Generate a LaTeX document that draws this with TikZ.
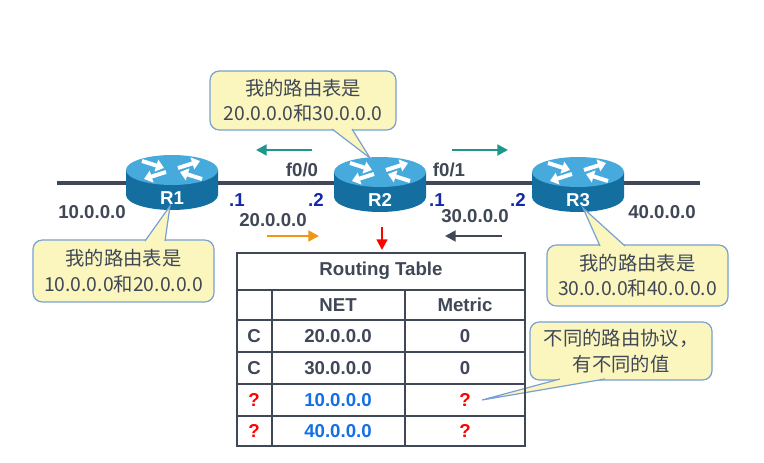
\documentclass[tikz,border=0pt]{standalone}
\usepackage{fontspec}
\setmainfont{Liberation Sans}
\newfontfamily\cjk{Noto Sans CJK SC}
\usetikzlibrary{arrows.meta,calc}
\definecolor{txt}{RGB}{64,72,88}
\definecolor{callfill}{RGB}{250,246,190}
\definecolor{callline}{RGB}{120,160,210}
\definecolor{tealc}{RGB}{30,150,140}
\definecolor{orangec}{RGB}{240,150,20}
\definecolor{bluec}{RGB}{20,110,230}
\definecolor{dblue}{RGB}{20,40,170}
\definecolor{rtop}{RGB}{70,170,220}
\definecolor{rbody}{RGB}{20,110,160}
\tikzset{
  lbl/.style={font=\fontsize{14}{16}\selectfont\bfseries, text=txt},
  ip/.style={font=\fontsize{14}{16}\selectfont\bfseries, text=dblue},
  ctext/.style={font=\cjk\fontsize{14.5}{19}\selectfont, text=txt, align=center},
  cell/.style={font=\fontsize{14}{16}\selectfont\bfseries, text=txt},
  arr/.style={-{Triangle[length=8pt,width=8pt]}, line width=2.2pt},
  cbox/.style={fill=callfill, draw=callline, line width=0.9pt, rounded corners=7pt},
}
\newcommand{\myrouter}[3]{% name, x, y
  \fill[rbody] (#2-46,#3-10) -- (#2-46,#3+15) arc[start angle=180,end angle=0,x radius=46,y radius=15] -- (#2+46,#3-10) -- cycle;
  \fill[rtop] (#2,#3-10) ellipse[x radius=46,y radius=15];
  \begin{scope}[white, line width=3pt, -{Triangle[length=6pt,width=9pt]}]
    \draw (#2-30,#3-19) -- (#2-8,#3-12);
    \draw (#2+30,#3-1) -- (#2+8,#3-8);
    \draw (#2+6,#3-12) -- (#2+28,#3-19);
    \draw (#2-6,#3-8) -- (#2-28,#3-1);
  \end{scope}
  \node[font=\fontsize{14}{16}\selectfont\bfseries, text=white] (#1) at (#2,#3+18) {#1};
}
\begin{document}
\begin{tikzpicture}[x=0.75pt,y=-0.75pt]
\useasboundingbox (0,0) rectangle (764,463);
\fill[white] (0,0) rectangle (764,463);
% line
\coordinate (L0) at (57,183);
\coordinate (L1) at (700,183);
\draw[txt, line width=2.4pt] (L0) -- (L1);
\myrouter{R1}{172}{180}
\myrouter{R2}{380}{182}
\myrouter{R3}{578}{182}
% labels
\node[lbl] (n10) at (92,212) {10.0.0.0};
\node[lbl] (n40) at (662,212) {40.0.0.0};
\node[ip] (i1) at (237,200) {.1};
\node[ip] (i2) at (316,200) {.2};
\node[ip] (i3) at (437,200) {.1};
\node[ip] (i4) at (518,200) {.2};
\node[lbl] (f00) at (302,170) {f0/0};
\node[lbl] (f01) at (449,170) {f0/1};
\node[lbl] (n20) at (273,220) {20.0.0.0};
\node[lbl] (n30) at (475,216) {30.0.0.0};
% arrows
\coordinate (a1) at (312,150); \coordinate (a2) at (256,150);
\coordinate (b1) at (452,150); \coordinate (b2) at (508,150);
\coordinate (c1) at (267,236); \coordinate (c2) at (319,236);
\coordinate (d1) at (502,236); \coordinate (d2) at (445,236);
\coordinate (e1) at (382,227); \coordinate (e2) at (382,250);
\draw[arr, tealc] (a1) -- (a2);
\draw[arr, tealc] (b1) -- (b2);
\draw[arr, orangec] (c1) -- (c2);
\draw[arr, txt] (d1) -- (d2);
\draw[arr, red, line width=1.8pt] (e1) -- (e2);
% callouts
\newcommand{\callout}[9]{% name, x1,y1,x2,y2, baseA, baseB, tip, text
  \draw[cbox] (#2,#3) rectangle (#4,#5);
  \fill[callfill] #6 -- #8 -- #7 -- cycle;
  \draw[callline, line width=0.9pt] #6 -- #8 -- #7;
  \node[ctext] (#1) at ({(#2+#4)/2},{(#3+#5)/2}) {#9};
}
\callout{c2}{210}{71}{396}{130}{(332,129)}{(352,129)}{(370,158)}{我的路由表是\\20.0.0.0和30.0.0.0}
\callout{c1}{33}{240}{214}{302}{(145,241)}{(165,241)}{(170,206)}{我的路由表是\\10.0.0.0和20.0.0.0}
\callout{c3}{547}{245}{728}{306}{(600,246)}{(625,246)}{(583,208)}{我的路由表是\\30.0.0.0和40.0.0.0}
\callout{c4}{530}{322}{712}{380}{(560,379)}{(605,379)}{(482,400)}{不同的路由协议，\\有不同的值}
% table
\draw[txt, line width=1.3pt] (237,253) rectangle (525,446);
\foreach \y in {290,320,352,384,416} \draw[txt, line width=1.3pt] (237,\y) -- (525,\y);
\draw[txt, line width=1.3pt] (272,290) -- (272,446);
\draw[txt, line width=1.3pt] (405,290) -- (405,446);
\node[cell] (tt) at (381,271) {Routing Table};
\node[cell] (hn) at (338,305) {NET};
\node[cell] (hm) at (465,305) {Metric};
\node[cell] (r1a) at (254,336) {C};
\node[cell] (r1b) at (338,336) {20.0.0.0};
\node[cell] (r1c) at (465,336) {0};
\node[cell] (r2a) at (254,368) {C};
\node[cell] (r2b) at (338,368) {30.0.0.0};
\node[cell] (r2c) at (465,368) {0};
\node[cell, text=red] (r3a) at (254,400) {?};
\node[cell, text=bluec] (r3b) at (338,400) {10.0.0.0};
\node[cell, text=red] (r3c) at (465,400) {?};
\node[cell, text=red] (r4a) at (254,431) {?};
\node[cell, text=bluec] (r4b) at (338,431) {40.0.0.0};
\node[cell, text=red] (r4c) at (465,431) {?};
\end{tikzpicture}
\end{document}
